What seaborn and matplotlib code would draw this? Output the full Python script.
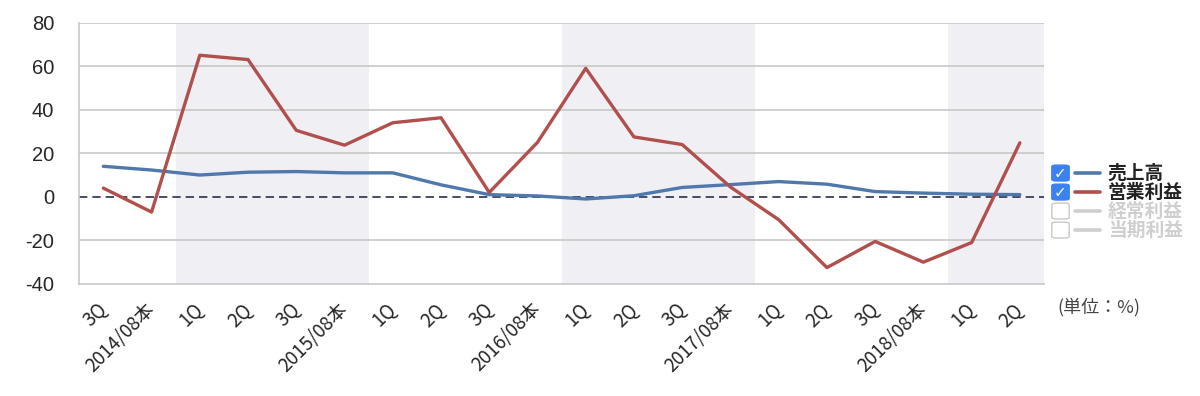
import matplotlib
matplotlib.use("Agg")
import matplotlib.pyplot as plt
import matplotlib.patches as mpatches
import numpy as np
import pandas as pd
import seaborn as sns

# categories (x axis)
labels = ["3Q", "2014/08本", "1Q", "2Q", "3Q", "2015/08本", "1Q", "2Q", "3Q", "2016/08本",
          "1Q", "2Q", "3Q", "2017/08本", "1Q", "2Q", "3Q", "2018/08本", "1Q", "2Q"]

# 売上高 (%)
sales = [14.0, 12.3, 10.0, 11.3, 11.6, 11.0, 11.0, 5.5, 1.0, 0.4,
         -1.0, 0.5, 4.3, 5.6, 7.0, 5.8, 2.4, 1.7, 1.2, 1.0]
# 営業利益 (%)
op_profit = [4.0, -7.0, 65.0, 63.0, 30.5, 23.7, 34.0, 36.3, 2.0, 25.0,
             59.0, 27.5, 24.0, 4.5, -10.5, -32.5, -20.5, -30.0, -21.0, 24.8]

series_names = ["売上高", "営業利益", "経常利益", "当期利益"]
series_on = [True, True, False, False]
# shaded fiscal-year groups (index ranges)
shaded = [(2, 5), (10, 13), (18, 19)]

BLUE = "#4f79ad"
RED = "#b04f4b"
OFF = "#cfcfcf"

df = pd.DataFrame({
    "idx": list(range(len(labels))) * 2,
    "value": sales + op_profit,
    "series": ["売上高"] * len(labels) + ["営業利益"] * len(labels),
})

sns.set_style("white")
plt.rcParams["font.family"] = ["Noto Sans CJK JP", "DejaVu Sans"]

fig = plt.figure(figsize=(12, 3.96), dpi=100)
ax = fig.add_axes([0.066, 0.283, 0.804, 0.66])

for a, b in shaded:
    ax.axvspan(a - 0.5, b + 0.5, color="#efeff4", lw=0, zorder=0)

for v in [-20, 20, 40, 60, 80]:
    ax.axhline(v, color="#c8c8c8", lw=1.2, zorder=1)
ax.axhline(0, color="#2a2f4a", lw=1.2, ls=(0, (5, 3)), zorder=1)

sns.lineplot(data=df, x="idx", y="value", hue="series",
             palette={"売上高": BLUE, "営業利益": RED},
             linewidth=2.4, legend=False, ax=ax, zorder=3)

ax.set_xlim(-0.5, len(labels) - 0.5)
ax.set_ylim(-40, 80)
ax.set_yticks([-40, -20, 0, 20, 40, 60, 80])
ax.set_yticklabels(["-40", "-20", "0", "20", "40", "60", "80"], fontsize=14.5,
                   family=["Liberation Sans", "DejaVu Sans"])
ax.tick_params(axis="y", length=7, color="#c8c8c8", width=1.2, pad=11)

ax.set_xticks(range(len(labels)))
ax.set_xticklabels(labels, rotation=45, ha="right", va="center",
                   rotation_mode="anchor", fontsize=13.5)
ax.tick_params(axis="x", length=0, pad=16)
ax.set_xticks(np.arange(0.5, len(labels), 1.0), minor=True)
ax.tick_params(axis="x", which="minor", direction="in", length=11, color="#c8c8c8", width=1.2)
ax.set_xlabel("")
ax.set_ylabel("")

for s in ["top", "right"]:
    ax.spines[s].set_visible(False)
for s in ["left", "bottom"]:
    ax.spines[s].set_color("#c8c8c8")
    ax.spines[s].set_linewidth(1.2)

# checkbox legend
colors_on = [BLUE, RED, OFF, OFF]
y0 = 0.563
dy = 0.048
for i, (name, on) in enumerate(zip(series_names, series_on)):
    y = y0 - i * dy
    box = mpatches.FancyBboxPatch((0.8775, y - 0.019), 0.0125, 0.038,
                                  boxstyle="round,pad=0.001,rounding_size=0.004",
                                  transform=fig.transFigure,
                                  facecolor="#3b82f0" if on else "white",
                                  edgecolor="#3b82f0" if on else "#c8c8c8", lw=1)
    fig.patches.append(box)
    if on:
        fig.text(0.8838, y, "✓", color="white", fontsize=11, ha="center", va="center",
                 family=["DejaVu Sans"])
    fig.lines.append(plt.Line2D([0.896, 0.917], [y, y], transform=fig.transFigure,
                                color=colors_on[i], lw=2.6))
    fig.text(0.923, y, name, fontsize=13.5, weight="bold", va="center",
             color="#222222" if on else OFF)

fig.text(0.881, 0.225, "(単位：%)", fontsize=13, color="#444444", va="center")

fig.savefig("out.png", dpi=100)
